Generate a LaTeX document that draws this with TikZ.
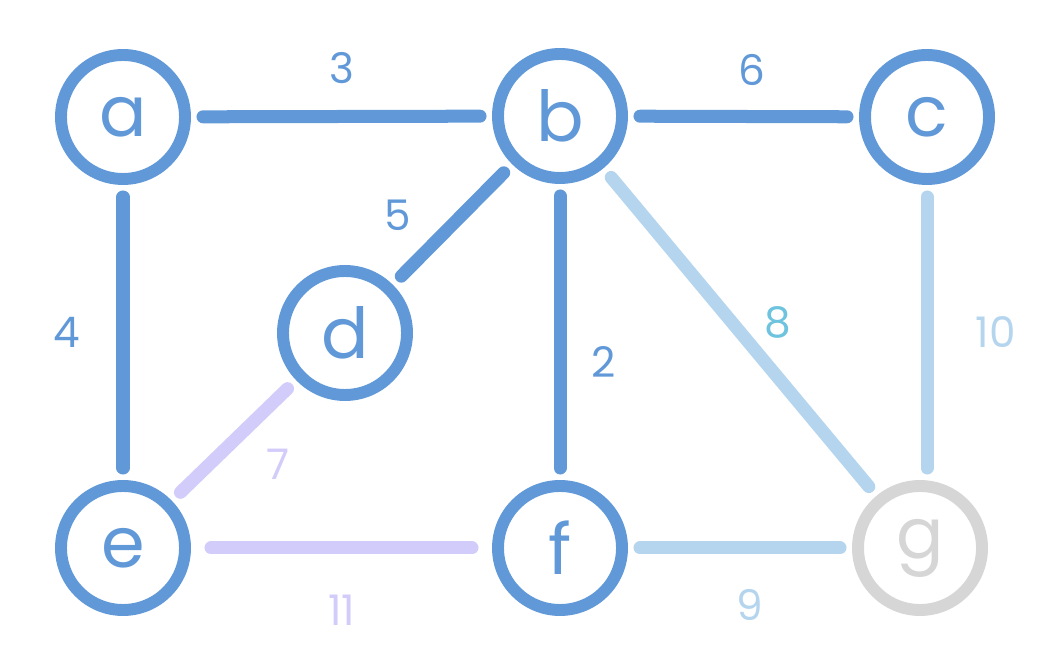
\documentclass[tikz,border=0pt]{standalone}
\usepackage{fontspec}
\setmainfont{Poppins}
\definecolor{edgeDark}{HTML}{6199D8}
\definecolor{edgeLight}{HTML}{B5D5EE}
\definecolor{edgeLilac}{HTML}{D2CCFA}
\definecolor{nodeGrey}{HTML}{D6D6D6}
\definecolor{labelTeal}{HTML}{6EC3DE}
\usetikzlibrary{positioning}

\begin{document}
\begin{tikzpicture}[
    vertex/.style={circle, draw=edgeDark, line width=3.4pt, minimum size=1.24cm,
                   inner sep=0pt, text=edgeDark, font=\fontsize{20}{20}\selectfont},
    link/.style={line width=3.7pt, line cap=round, shorten <=0.12cm, shorten >=0.12cm, edgeDark},
    weight/.style={font=\fontsize{12}{12}\selectfont, inner sep=0pt, text=edgeDark}
  ]
    \useasboundingbox (0,0) rectangle (10.51,6.67);
    \node[vertex] (a) at (1.23,5.50) {a};
    \node[vertex] (b) at (5.60,5.51) {b};
    \node[vertex] (c) at (9.27,5.50) {c};
    \node[vertex] (d) at (3.45,3.34) {d};
    \node[vertex] (e) at (1.23,1.19) {e};
    \node[vertex] (f) at (5.60,1.19) {f};
    \node[vertex, draw=nodeGrey, text=nodeGrey] (g) at (9.20,1.19) {g};
    \draw[link] (a) -- node[above=0.26cm, weight] {3} (b);
    \draw[link] (b) -- node[above=0.24cm, xshift=0.08cm, weight] {6} (c);
    \draw[link] (a) -- node[left=0.36cm, weight] {4} (e);
    \draw[link] (b) -- node[left=0.35cm, yshift=0.09cm, weight] {5} (d);
    \draw[link] (b) -- node[pos=0.6, right=0.25cm, weight] {2} (f);
    \draw[link, edgeLight] (b) -- node[right=0.18cm, yshift=0.1cm, weight, text=labelTeal] {8} (g);
    \draw[link, edgeLight] (c.south) -- node[right=0.42cm, weight, text=edgeLight] {10} (c.south |- g.north);
    \draw[link, edgeLilac] (d) -- node[xshift=0.44cm, yshift=-0.24cm, weight, text=edgeLilac] {7} (e);
    \draw[link, edgeLilac, shorten <=0.2cm, shorten >=0.2cm] (e) -- node[below=0.41cm, weight, text=edgeLilac] {11} (f);
    \draw[link, edgeLight] (f) -- node[below=0.35cm, xshift=0.1cm, weight, text=edgeLight] {9} (g);
  \end{tikzpicture}
\end{document}
